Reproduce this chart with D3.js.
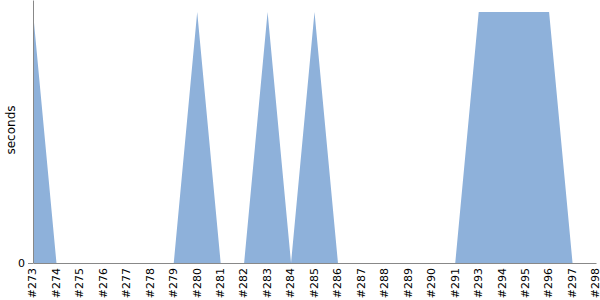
<!DOCTYPE html>
<html>
<head>
<meta charset="utf-8">
<script src="https://d3js.org/d3.v7.min.js"></script>
<style>
  body { margin: 0; background: #fff; }
  text { font-family: "DejaVu Sans", sans-serif; }
</style>
</head>
<body>
<div id="graph"></div>
<script>
var builds = ["#273", "#274", "#275", "#276", "#277", "#278", "#279", "#280", "#281", "#282",
              "#283", "#284", "#285", "#286", "#287", "#288", "#289", "#290", "#291", "#293",
              "#294", "#295", "#296", "#297", "#298"];
var seconds = [1, 0, 0, 0, 0, 0, 0, 1, 0, 0,
               1, 0, 1, 0, 0, 0, 0, 0, 0, 1,
               1, 1, 1, 0, 0];
var yTicks = [0];

var margin = {top: 0, right: 4, bottom: 37, left: 33};
var width = 600 - margin.left - margin.right;
var height = 300 - margin.top - margin.bottom;

var svg = d3.select('#graph')
  .append('svg')
    .attr("width", width + margin.left + margin.right)
    .attr("height", height + margin.top + margin.bottom)
  .append("g")
    .attr("transform", "translate(" + margin.left + "," + margin.top + ")");

var data = builds.map(function(b, i) { return {build: b, value: seconds[i]}; });

// X axis
var x = d3.scalePoint()
  .domain(builds)
  .range([0, width]);

// Y axis
var y = d3.scaleLinear()
  .domain([0, d3.max(seconds) * 1.048])
  .range([height, 0]);

svg.append("path")
  .datum(data)
  .attr("fill", "#8eb1da")
  .attr("d", d3.area()
    .x(function(d) { return x(d.build); })
    .y0(height)
    .y1(function(d) { return y(d.value); })
  );

var xAxis = svg.append("g")
  .attr("transform", "translate(0," + height + ")")
  .call(d3.axisBottom(x).tickSize(0));
xAxis.select(".domain").attr("stroke", "#888");
xAxis.selectAll("text")
  .attr("font-size", 11)
  .attr("fill", "#000")
  .attr("transform", "rotate(-90)")
  .attr("text-anchor", "end")
  .attr("x", -5)
  .attr("y", -1)
  .attr("dy", "0.35em");

var yAxis = svg.append("g")
  .call(d3.axisLeft(y).tickValues(yTicks).tickFormat(d3.format("d")).tickSize(5).tickSizeOuter(0));
yAxis.select(".domain").attr("stroke", "#888");
yAxis.selectAll(".tick line").attr("stroke", "#888");
yAxis.selectAll(".tick text").attr("font-size", 11).attr("fill", "#000");

// Y axis name
svg.append("text")
  .attr("text-anchor", "middle")
  .attr("transform", "translate(" + (-18) + "," + 130 + ") rotate(-90)")
  .attr("font-size", 12)
  .text("seconds");
</script>
</body>
</html>
